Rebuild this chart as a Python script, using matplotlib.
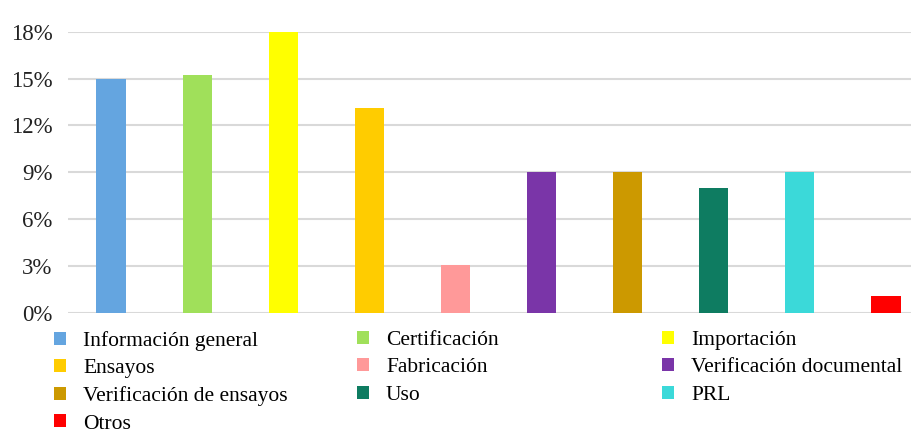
import matplotlib.pyplot as plt
from matplotlib.patches import Patch

categorias = ['Información general', 'Certificación', 'Importación', 'Ensayos',
              'Fabricación', 'Verificación documental', 'Verificación de ensayos',
              'Uso', 'PRL', 'Otros']
valores = [15.0, 15.2, 18.1, 13.1, 3.1, 9.0, 9.0, 8.0, 9.0, 1.1]
colores = ['#64a5e0', '#a0e05a', '#ffff00', '#ffcc00', '#ff9999',
           '#7a35a8', '#cc9900', '#0e7c61', '#3bd9d9', '#ff0000']
ticks = [0, 3, 6, 9, 12, 15, 18]

plt.rcParams['font.family'] = ['Liberation Serif', 'DejaVu Serif']

fig = plt.figure(figsize=(9.11, 4.33), dpi=100)
ax = fig.add_axes([68 / 911, 1 - 313 / 433, 1 - 68 / 911, (313 - 31.7) / 433])

x = range(len(categorias))
ax.bar(x, valores, width=0.34, color=colores, zorder=3)

ax.set_ylim(0, 18)
ax.set_xlim(-0.5, 9.5 - 18 / 86.1)
ax.set_yticks(ticks)
ax.set_yticklabels([f'{t}%' for t in ticks], fontsize=16.5, color='#222222')
ax.set_xticks([])
ax.tick_params(axis='y', length=0, pad=11)
ax.grid(axis='y', color='#d9d9d9', linewidth=1.5, zorder=0)
for s in ax.spines.values():
    s.set_visible(False)

# legend: three columns, items read row by row
col_x = [54, 357, 662]
for c in range(3):
    idx = list(range(c, len(categorias), 3))
    handles = [Patch(facecolor=colores[i], edgecolor='none') for i in idx]
    labels = [categorias[i] for i in idx]
    fig.legend(handles, labels, loc='upper left',
               bbox_to_anchor=(col_x[c] / 911, 1 - 331 / 433), frameon=False,
               fontsize=15.5, handlelength=0.55, handleheight=0.55,
               handletextpad=0.8, labelspacing=0.38,
               borderaxespad=0, borderpad=0)

fig.savefig('out.png', dpi=100)
